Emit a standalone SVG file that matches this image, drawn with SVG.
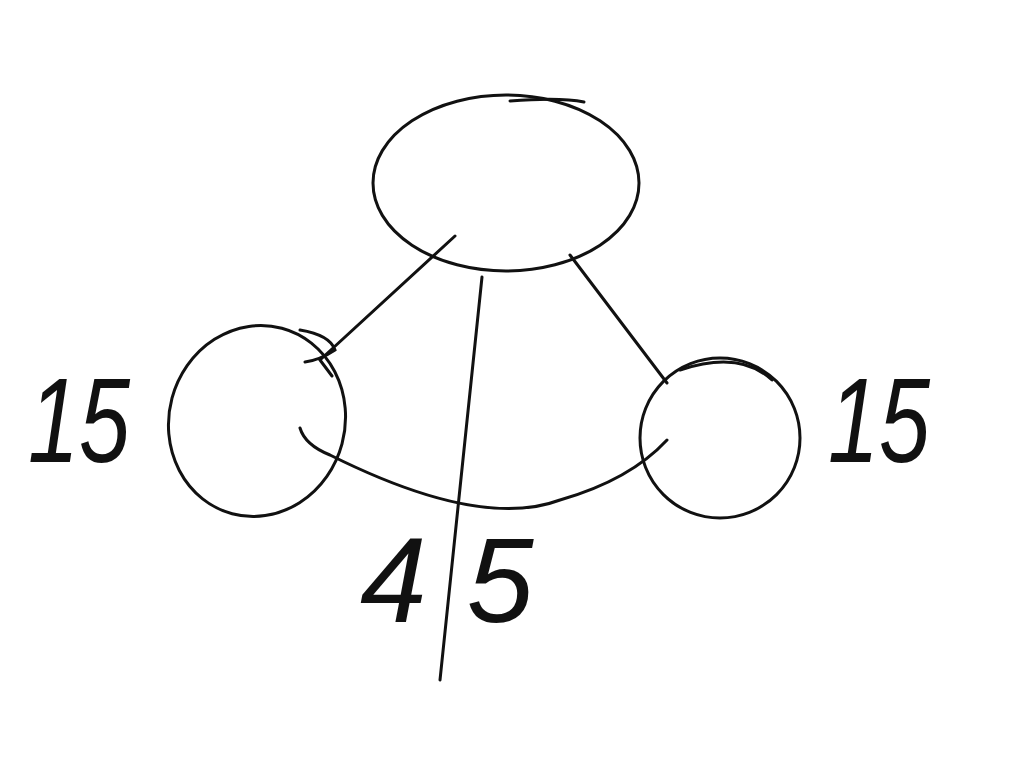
<svg xmlns="http://www.w3.org/2000/svg" width="1024" height="768" viewBox="0 0 1024 768">
<style>
.n{fill:none;stroke:#111;stroke-width:3;stroke-linecap:round}
.c{fill:none;stroke:#111;stroke-width:3;stroke-linecap:round}
.t{font-family:"Liberation Sans",Arial,sans-serif;font-size:120px;fill:#111;font-style:italic}
</style>
<rect width="1024" height="768" fill="#fff"/>
<g id="top"><ellipse class="n" cx="506" cy="183" rx="133" ry="88"/><path class="n" d="M510 101 Q560 97 584 102"/></g>
<g id="left"><ellipse class="n" cx="257" cy="421" rx="88" ry="96" transform="rotate(15 257 421)"/></g>
<g id="right"><ellipse class="n" cx="720" cy="438" rx="80" ry="80"/></g>
<g id="connectors">
<path class="c" d="M455 236 L320 360 M300 330 Q330 335 335 350 Q320 360 305 362 M320 360 L332 376"/>
<path class="c" d="M570 255 L667 383 M680 370 Q740 350 772 380"/>
<path class="c" d="M482 277 Q460 480 440 680"/>
<path class="c" d="M300 428 Q305 445 330 455 Q480 530 560 500 Q630 480 667 440"/>
</g>
<g id="labels">
<text class="t" x="28" y="462" textLength="102" lengthAdjust="spacingAndGlyphs">15</text>
<text class="t" x="828" y="462" textLength="102" lengthAdjust="spacingAndGlyphs">15</text>
<text class="t" x="360" y="622" font-size="110">4<tspan dx="40">5</tspan></text>
</g>
</svg>
